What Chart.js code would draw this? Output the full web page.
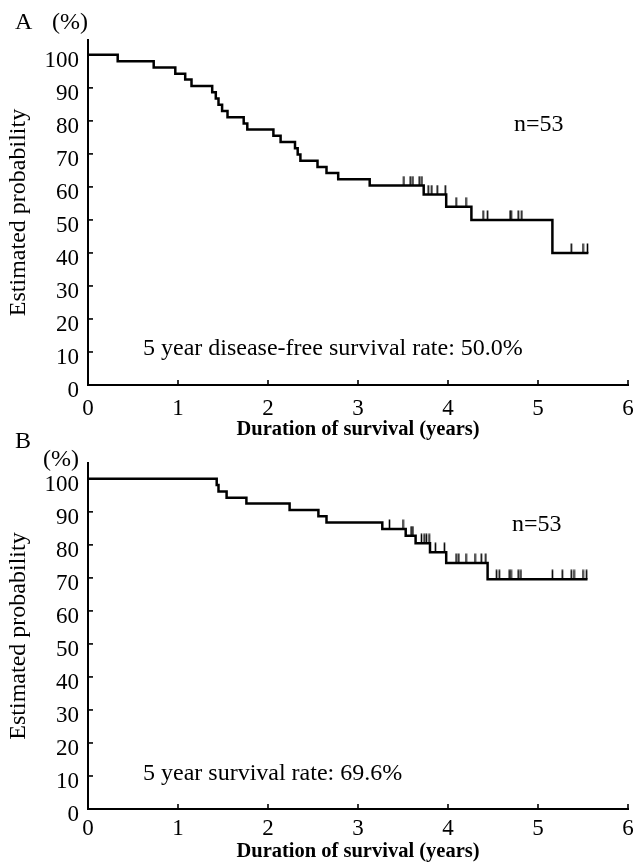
<!DOCTYPE html>
<html>
<head>
<meta charset="utf-8">
<script src="https://cdn.jsdelivr.net/npm/chart.js@4.4.1/dist/chart.umd.min.js"></script>
<style>
  html, body { margin: 0; padding: 0; background: #fff; }
  .panel { position: absolute; left: 0; width: 634px; }
  #panelA { top: 0; height: 450px; }
  #panelB { top: 432px; height: 432px; }
</style>
</head>
<body>
<div class="panel" id="panelB"><canvas id="chartB" width="634" height="432"></canvas></div>
<div class="panel" id="panelA"><canvas id="chartA" width="634" height="450"></canvas></div>
<script>
// panel A: disease-free survival (years, %)
const timesA = [0, 0.33, 0.73, 0.97, 1.08, 1.15, 1.38, 1.42, 1.45, 1.49, 1.55, 1.73, 1.77,
  2.06, 2.14, 2.30, 2.33, 2.36, 2.55, 2.65, 2.78, 3.13, 3.73, 3.98, 4.26, 5.16, 5.56];
const survA = [100, 98.1, 96.2, 94.3, 92.5, 90.6, 88.7, 86.8, 84.9, 83.0, 81.1, 79.2, 77.4,
  75.5, 73.6, 71.7, 69.8, 67.9, 66.0, 64.2, 62.3, 60.4, 57.7, 54.0, 50.0, 40.0, 40.0];
const censorA = [3.51, 3.58, 3.61, 3.68, 3.71, 3.78, 3.82, 3.88, 3.97, 4.09, 4.20,
  4.39, 4.44, 4.69, 4.70, 4.78, 4.82, 5.37, 5.50, 5.55];

// panel B: overall survival
const timesB = [0, 1.43, 1.45, 1.54, 1.76, 2.24, 2.56, 2.65, 3.27, 3.53, 3.64, 3.80, 3.98, 4.44, 5.55];
const survB = [100, 98.1, 96.2, 94.3, 92.5, 90.6, 88.7, 86.8, 84.8, 82.8, 80.5, 77.8, 74.5, 69.6, 69.6];
const censorB = [3.35, 3.50, 3.59, 3.61, 3.705, 3.735, 3.76, 3.79, 3.86, 3.96, 4.09, 4.12,
  4.20, 4.30, 4.37, 4.42, 4.54, 4.57, 4.68, 4.70, 4.78, 4.81, 5.16, 5.27, 5.37, 5.40, 5.50, 5.54];

const xTicks = [0, 1, 2, 3, 4, 5, 6];
const yTicks = [0, 10, 20, 30, 40, 50, 60, 70, 80, 90, 100];

const FONT = '"Liberation Serif", "DejaVu Serif", serif';

// survival level at time t (step function)
function levelAt(times, surv, t) {
  let v = surv[0];
  for (let i = 0; i < times.length; i++) {
    if (times[i] <= t) v = surv[i];
  }
  return v;
}

// censor mark: short vertical line going up from the point
const censorMark = document.createElement('canvas');
censorMark.width = 3;
censorMark.height = 20;
(function () {
  const c = censorMark.getContext('2d');
  c.strokeStyle = '#000';
  c.lineWidth = 1.6;
  c.beginPath();
  c.moveTo(1.5, 0.5);
  c.lineTo(1.5, 10);
  c.stroke();
})();

// inward tick marks on both axes
const innerTicks = {
  id: 'innerTicks',
  afterDraw(chart) {
    const { ctx, chartArea, scales } = chart;
    ctx.save();
    ctx.strokeStyle = '#000';
    ctx.lineWidth = 1.6;
    yTicks.forEach(v => {
      if (v === 0) return;
      const y = scales.y.getPixelForValue(v);
      ctx.beginPath();
      ctx.moveTo(chartArea.left, y);
      ctx.lineTo(chartArea.left + 5, y);
      ctx.stroke();
    });
    xTicks.forEach(v => {
      if (v === 0) return;
      const x = scales.x.getPixelForValue(v);
      ctx.beginPath();
      ctx.moveTo(x, chartArea.bottom);
      ctx.lineTo(x, chartArea.bottom - 5);
      ctx.stroke();
    });
    ctx.restore();
  }
};

// free text labels
function labelsPlugin(items) {
  return {
    id: 'labels',
    afterDraw(chart) {
      const ctx = chart.ctx;
      ctx.save();
      ctx.fillStyle = '#000';
      ctx.textBaseline = 'middle';
      ctx.textAlign = 'left';
      items.forEach(it => {
        ctx.font = (it.size || 24) + 'px ' + FONT;
        ctx.fillText(it.text, it.x, it.y);
      });
      ctx.restore();
    }
  };
}

function makeChart(id, times, surv, censor, yMax, topPad, xHeight, tickPad, titlePad, texts) {
  const line = times.map((t, i) => ({ x: t, y: surv[i] }));
  const marks = censor.map(t => ({ x: t, y: levelAt(times, surv, t) }));
  return new Chart(document.getElementById(id), {
    type: 'line',
    data: {
      datasets: [
        {
          data: line,
          stepped: true,
          borderColor: '#000',
          borderWidth: 2.5,
          pointRadius: 0,
          fill: false
        },
        {
          type: 'scatter',
          data: marks,
          pointStyle: censorMark,
          pointRadius: 5,
          showLine: false
        }
      ]
    },
    options: {
      responsive: false,
      animation: false,
      devicePixelRatio: 1,
      layout: { padding: { top: topPad, right: 6, left: 0, bottom: 0 } },
      plugins: { legend: { display: false }, tooltip: { enabled: false } },
      scales: {
        x: {
          type: 'linear',
          min: 0,
          max: 6,
          afterFit: s => { s.height = xHeight; s.paddingLeft = 0; s.paddingRight = 0; },
          afterBuildTicks: s => { s.ticks = xTicks.map(v => ({ value: v })); },
          grid: { display: false, drawTicks: false },
          border: { display: true, color: '#000', width: 2 },
          ticks: { color: '#000', font: { family: FONT, size: 23 }, padding: tickPad, maxRotation: 0 },
          title: {
            display: true,
            text: 'Duration of survival (years)',
            color: '#000',
            font: { family: FONT, size: 20.5, weight: 'bold' },
            padding: { top: 0, bottom: titlePad }
          }
        },
        y: {
          type: 'linear',
          min: 0,
          max: yMax,
          afterFit: s => { s.width = 88; },
          afterBuildTicks: s => { s.ticks = yTicks.map(v => ({ value: v })); },
          grid: { display: false, drawTicks: false },
          border: { display: true, color: '#000', width: 2 },
          ticks: { color: '#000', font: { family: FONT, size: 23 }, padding: 9, labelOffset: 6 },
          title: {
            display: true,
            text: 'Estimated probability',
            color: '#000',
            font: { family: FONT, size: 24 },
            padding: { top: 4, bottom: 0 }
          }
        }
      }
    },
    plugins: [innerTicks, labelsPlugin(texts)]
  });
}

makeChart('chartA', timesA, survA, censorA, 104.5, 40, 65, 10, 8, [
  { text: 'A', x: 15, y: 23 },
  { text: '(%)', x: 52, y: 23 },
  { text: 'n=53', x: 514, y: 125 },
  { text: '5 year disease-free survival rate: 50.0%', x: 143, y: 349 }
]);

makeChart('chartB', timesB, survB, censorB, 104.8, 31, 55, 6, 0, [
  { text: 'B', x: 15, y: 10 },
  { text: '(%)', x: 43, y: 28 },
  { text: 'n=53', x: 512, y: 93 },
  { text: '5 year survival rate: 69.6%', x: 143, y: 342 }
]);
</script>
</body>
</html>
